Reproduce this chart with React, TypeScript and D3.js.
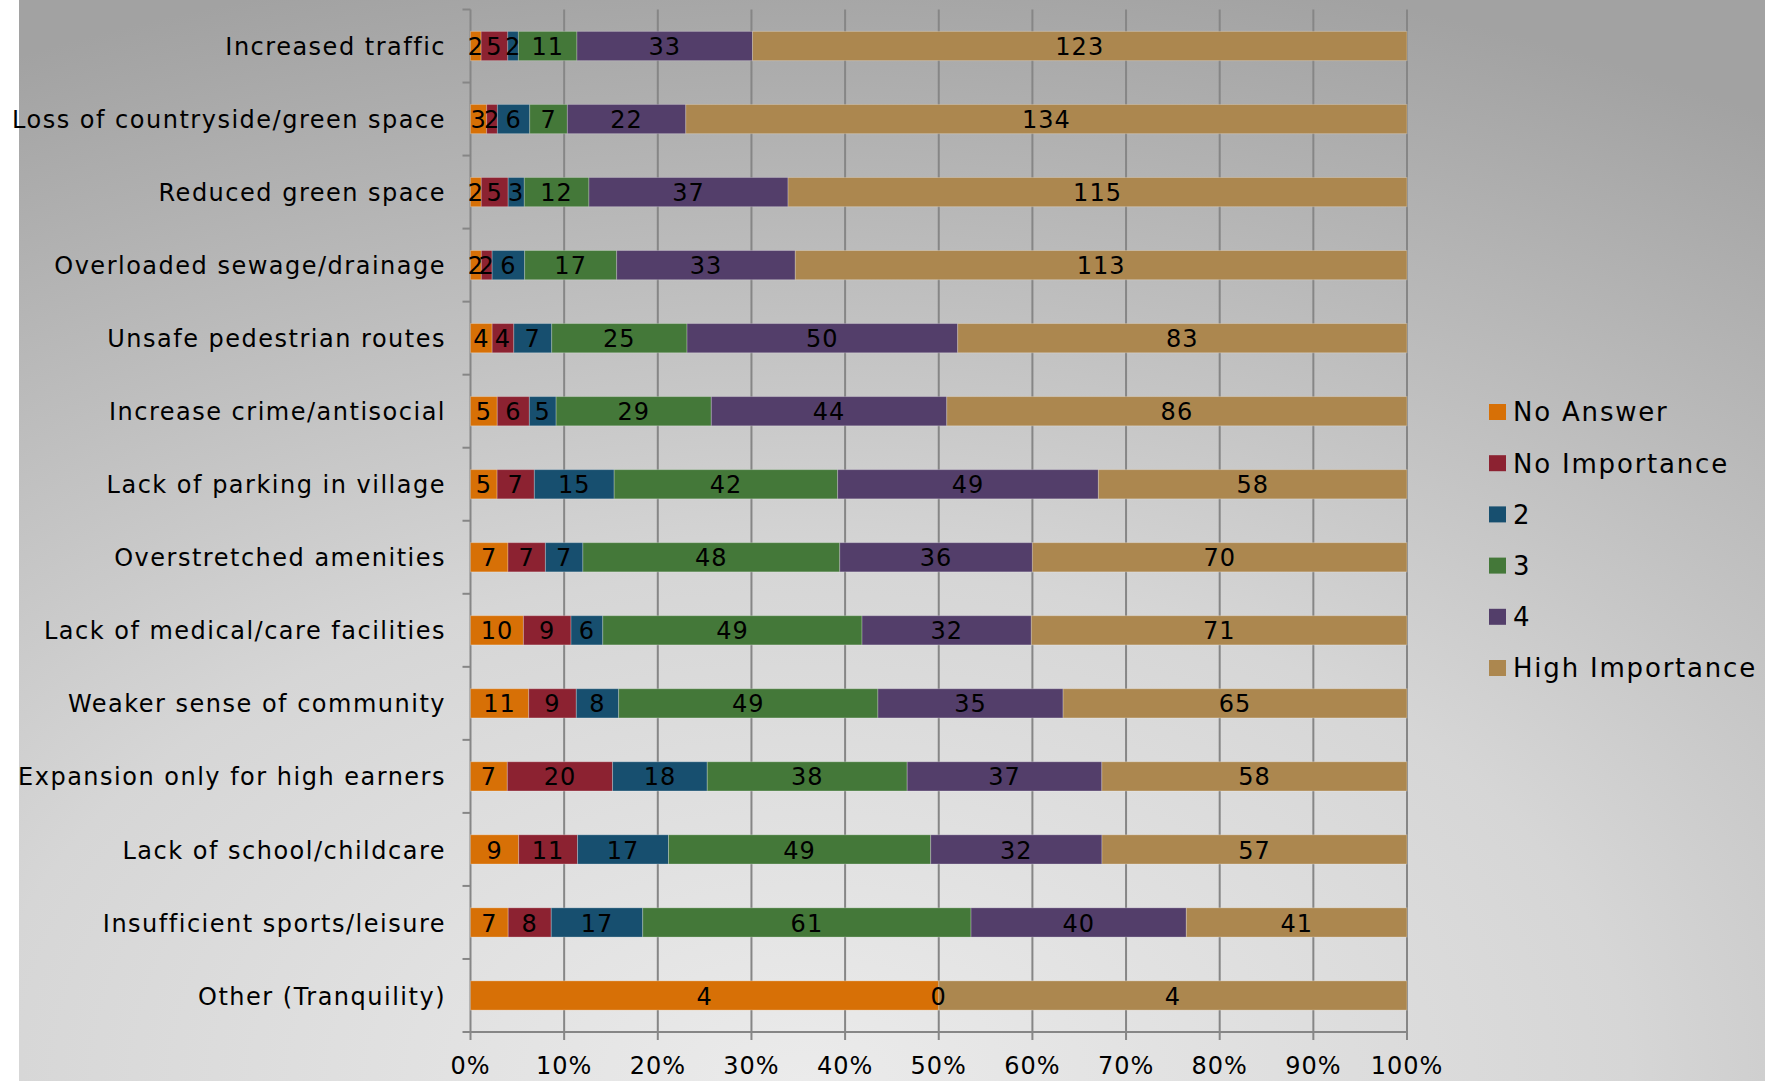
import React from "react";
import * as d3 from "d3";

const categories = [
  "Increased traffic",
  "Loss of countryside/green space",
  "Reduced green space",
  "Overloaded sewage/drainage",
  "Unsafe pedestrian routes",
  "Increase crime/antisocial",
  "Lack of parking in village",
  "Overstretched amenities",
  "Lack of medical/care facilities",
  "Weaker sense of community",
  "Expansion only for high earners",
  "Lack of school/childcare",
  "Insufficient sports/leisure",
  "Other (Tranquility)",
];

const seriesNames = ["No Answer", "No Importance", "2", "3", "4", "High Importance"];
const seriesColors = ["#D77006", "#8C2231", "#174F6F", "#447839", "#533E6A", "#AC874F"];

const noAnswer = [2, 3, 2, 2, 4, 5, 5, 7, 10, 11, 7, 9, 7, 4];
const noImportance = [5, 2, 5, 2, 4, 6, 7, 7, 9, 9, 20, 11, 8, null];
const level2 = [2, 6, 3, 6, 7, 5, 15, 7, 6, 8, 18, 17, 17, null];
const level3 = [11, 7, 12, 17, 25, 29, 42, 48, 49, 49, 38, 49, 61, null];
const level4 = [33, 22, 37, 33, 50, 44, 49, 36, 32, 35, 37, 32, 40, 0];
const highImportance = [123, 134, 115, 113, 83, 86, 58, 70, 71, 65, 58, 57, 41, 4];

const xTicks = [0, 0.1, 0.2, 0.3, 0.4, 0.5, 0.6, 0.7, 0.8, 0.9, 1.0];

const FONT = "'DejaVu Sans', Verdana, sans-serif";

export default function App() {
  const W = 1765;
  const H = 1081;
  const left = 470.5;
  const right = 1407;
  const top = 9.5;
  const bottom = 1032;

  const series = [noAnswer, noImportance, level2, level3, level4, highImportance];

  const x = d3.scaleLinear().domain([0, 1]).range([left, right]);
  const y = d3
    .scaleBand<string>()
    .domain(categories)
    .range([top, bottom])
    .paddingInner(0.6)
    .paddingOuter(0.3);

  const step = y.step();
  const rows = categories.map((cat, i) => {
    const vals = series.map((s) => s[i]);
    const total = d3.sum(vals.map((v) => (v == null ? 0 : v)));
    let acc = 0;
    const segs = vals.map((v, k) => {
      const val = v == null ? 0 : v;
      const x0 = acc / total;
      acc += val;
      const x1 = acc / total;
      return { k, v, x0, x1 };
    });
    return { cat, segs };
  });

  const legendX = 1489;
  const legendY0 = 412;
  const legendStep = 51.2;

  return (
    <svg
      width={W}
      height={H}
      style={{ position: "fixed", left: 0, top: 0, display: "block" }}
      fontFamily={FONT}
    >
      <defs>
        <radialGradient id="bg" cx="0.45" cy="1.0" r="1.05" fx="0.45" fy="1.0">
          <stop offset="0" stopColor="#ebebeb" />
          <stop offset="0.45" stopColor="#d6d6d6" />
          <stop offset="1" stopColor="#a2a2a2" />
        </radialGradient>
      </defs>
      <rect x={0} y={0} width={W} height={H} fill="#ffffff" />
      <rect x={19} y={0} width={W - 19} height={H} fill="url(#bg)" />

      {/* vertical gridlines */}
      {xTicks.map((t) => (
        <line
          key={"g" + t}
          x1={x(t)}
          x2={x(t)}
          y1={top}
          y2={bottom + 8}
          stroke="#868686"
          strokeWidth={2}
        />
      ))}
      {/* y axis ticks */}
      {d3.range(categories.length + 1).map((k) => (
        <line
          key={"yt" + k}
          x1={left - 8}
          x2={left}
          y1={top + k * step}
          y2={top + k * step}
          stroke="#868686"
          strokeWidth={2}
        />
      ))}
      {/* x axis line */}
      <line x1={left} x2={right} y1={bottom} y2={bottom} stroke="#868686" strokeWidth={2} />

      {/* bars */}
      {rows.map((r) =>
        r.segs.map((s) =>
          s.v == null || s.v === 0 ? null : (
            <rect
              key={r.cat + s.k}
              x={x(s.x0)}
              y={y(r.cat)}
              width={x(s.x1) - x(s.x0)}
              height={y.bandwidth()}
              fill={seriesColors[s.k]}
              stroke="rgba(255,255,255,0.25)"
              strokeWidth={1}
            />
          )
        )
      )}

      {/* data labels */}
      {rows.map((r) =>
        r.segs.map((s) =>
          s.v == null ? null : (
            <text
              key={"l" + r.cat + s.k}
              x={(x(s.x0) + x(s.x1)) / 2}
              y={(y(r.cat) as number) + y.bandwidth() / 2}
              dy="0.38em"
              textAnchor="middle"
              fontSize={24}
              letterSpacing={1}
              fill="#000"
            >
              {s.v}
            </text>
          )
        )
      )}

      {/* category labels */}
      {categories.map((c) => (
        <text
          key={"c" + c}
          x={446}
          y={(y(c) as number) + y.bandwidth() / 2}
          dy="0.38em"
          textAnchor="end"
          fontSize={24}
          letterSpacing={1.5}
          fill="#000"
        >
          {c}
        </text>
      ))}

      {/* x tick labels */}
      {xTicks.map((t) => (
        <text
          key={"xl" + t}
          x={x(t)}
          y={1065}
          dy="0.36em"
          textAnchor="middle"
          fontSize={24}
          letterSpacing={1}
          fill="#000"
        >
          {d3.format(".0%")(t)}
        </text>
      ))}

      {/* legend */}
      {seriesNames.map((n, i) => (
        <g key={"lg" + n} transform={`translate(${legendX},${legendY0 + i * legendStep})`}>
          <rect x={0} y={-8} width={17} height={16} fill={seriesColors[i]} />
          <text x={24} y={0} dy="0.36em" fontSize={26} letterSpacing={1.8} fill="#000">
            {n}
          </text>
        </g>
      ))}
    </svg>
  );
}
